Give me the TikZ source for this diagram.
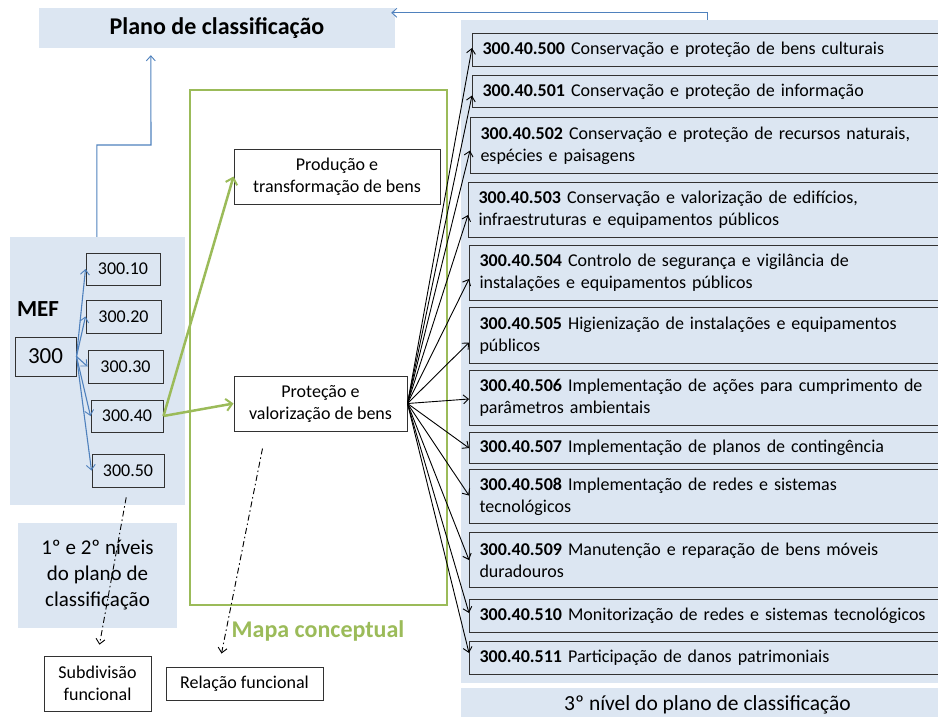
\documentclass[tikz,border=0pt]{standalone}
\usepackage{fontspec}
\setmainfont{Carlito}
\usetikzlibrary{arrows.meta,calc}
\definecolor{pale}{RGB}{220,230,242}
\definecolor{blueline}{RGB}{79,129,189}
\definecolor{grn}{RGB}{155,187,89}
\definecolor{edgec}{RGB}{50,50,50}
\begin{document}
\begin{tikzpicture}[x=1pt,y=-1pt,
  panel/.style={fill=pale, draw=none, inner sep=0pt},
  box/.style={draw=edgec, line width=1pt, inner sep=0pt, align=center, font=\fontsize{18}{22}\selectfont},
  item/.style={draw=edgec, fill=pale, line width=1pt, anchor=north west, inner xsep=10pt, inner ysep=0pt,
    text width=458pt, align=left, font=\fontsize{18}{22}\selectfont},
  barb/.tip={Straight Barb[length=5pt,width=9pt,line width=0.9pt]},
  bluearrow/.style={draw=blueline, line width=1.1pt, -barb},
  greenarrow/.style={draw=grn, line width=2.5pt, -{Straight Barb[length=6pt,width=12pt,line width=2pt]}},
  blackarrow/.style={draw=black, line width=0.9pt, -barb},
  dda/.style={draw=black, line width=0.9pt, dash pattern=on 6pt off 3pt on 1.5pt off 3pt, -{Straight Barb[length=5pt,width=9pt,line width=0.9pt]}}
]
\clip (0,0) rectangle (938,717);
\useasboundingbox (0,0) rectangle (938,717);

% panels
\node[panel, minimum width=356pt, minimum height=40pt, font=\bfseries\fontsize{24}{29}\selectfont] (title) at (217,28) {Plano de classificação};
\node[panel, minimum width=175pt, minimum height=268pt] (mef) at (97.5,371) {};
\node[panel, minimum width=493pt, minimum height=663pt] (rp) at (707.5,351.5) {};
\node[panel, minimum width=493pt, minimum height=34pt, font=\fontsize{21.5}{26}\selectfont] (lvl3) at (707.5,705) {3º nível do plano de classificação};
\node[panel, minimum width=159pt, minimum height=105pt, align=center, font=\fontsize{21}{26}\selectfont] (lvl12) at (97.5,575.5) {1º e 2º níveis\\do plano de\\classificação};

% green map
\node[draw=grn, line width=2.5pt, minimum width=257pt, minimum height=515pt, inner sep=0pt] (map) at (318.5,347.5) {};
\node[text=grn, font=\bfseries\fontsize{24}{29}\selectfont] (maplabel) at (318,631) {Mapa conceptual};

% MEF
\node[font=\bfseries\fontsize{23}{28}\selectfont] (meflabel) at (38,309) {MEF};
\node[box, minimum width=61pt, minimum height=39pt, font=\fontsize{23}{28}\selectfont] (n300) at (45.5,356.5) {300};
\node[box, minimum width=74pt, minimum height=32pt] (b10) at (123,269) {300.10};
\node[box, minimum width=75pt, minimum height=33pt] (b20) at (123.5,316.5) {300.20};
\node[box, minimum width=75pt, minimum height=33pt] (b30) at (125.5,366.5) {300.30};
\node[box, minimum width=72pt, minimum height=32pt] (b40) at (127,416) {300.40};
\node[box, minimum width=72pt, minimum height=33pt] (b50) at (128,470.5) {300.50};

% map boxes
\node[box, minimum width=206pt, minimum height=55pt] (prod) at (337,176.5) {Produção e\\transformação de bens};
\node[box, minimum width=173pt, minimum height=55pt] (prot) at (320.5,403.5) {Proteção e\\valorização de bens};

% bottom boxes
\node[box, minimum width=107pt, minimum height=55pt] (sub) at (97.5,683.5) {Subdivisão\\funcional};
\node[box, minimum width=157pt, minimum height=33pt] (rel) at (244.5,683.5) {Relação funcional};

% right items
\node[item, minimum height=33pt] (i500) at (472,33) {\textbf{300.40.500} Conservação e proteção de bens culturais};
\node[item, minimum height=32pt] (i501) at (472,75) {\textbf{300.40.501} Conservação e proteção de informação};
\node[item, minimum height=56pt] (i502) at (470,117) {\textbf{300.40.502} Conservação e proteção de recursos naturais,\\espécies e paisagens};
\node[item, minimum height=55pt] (i503) at (468,182) {\textbf{300.40.503} Conservação e valorização de edifícios,\\infraestruturas e equipamentos públicos};
\node[item, minimum height=55pt] (i504) at (469,245) {\textbf{300.40.504} Controlo de segurança e vigilância de\\instalações e equipamentos públicos};
\node[item, minimum height=56pt] (i505) at (469,307) {\textbf{300.40.505} Higienização de instalações e equipamentos\\públicos};
\node[item, minimum height=55pt] (i506) at (469,370) {\textbf{300.40.506} Implementação de ações para cumprimento de\\parâmetros ambientais};
\node[item, minimum height=31pt] (i507) at (469,432) {\textbf{300.40.507} Implementação de planos de contingência};
\node[item, minimum height=54pt] (i508) at (469,469) {\textbf{300.40.508} Implementação de redes e sistemas\\tecnológicos};
\node[item, minimum height=55pt] (i509) at (469,532) {\textbf{300.40.509} Manutenção e reparação de bens móveis\\duradouros};
\node[item, minimum height=33pt] (i510) at (469,599) {\textbf{300.40.510} Monitorização de redes e sistemas tecnológicos};
\node[item, minimum height=33pt] (i511) at (469,641) {\textbf{300.40.511} Participação de danos patrimoniais};

% blue connectors
\draw[bluearrow] ($(rp.north west)+(247,0)$) |- ($(title.north east)+(-4,5)$);
\draw[bluearrow] ($(mef.north west)+(87,0)$) |- (151,145) -- ($(title.south west)+(112,7)$);
\foreach \b in {b10,b20,b30,b40,b50}
  \draw[bluearrow] (n300.east) -- (\b.west);

% green connectors
\draw[greenarrow] (b40.east) -- (prod.west);
\draw[greenarrow] (b40.east) -- (prot.west);

% black connectors
\foreach \i/\dy in {i500/-2,i501/4,i502/5,i503/5,i504/6,i505/7,i506/1,i507/0,i508/-1,i509/0,i510/-3,i511/-5}
  \draw[blackarrow] (prot.east) -- ([yshift=-\dy pt]\i.west);

% dash-dot connectors
\coordinate (d1s) at ($(prot.south west)+(29,17)$);
\coordinate (d1e) at ($(rel.north west)+(56,-13)$);
\draw[dda, shorten <=10pt, shorten >=11pt] (b50.south) -- (sub.north);
\draw[dda] (d1s) -- (d1e);
\end{tikzpicture}
\end{document}
